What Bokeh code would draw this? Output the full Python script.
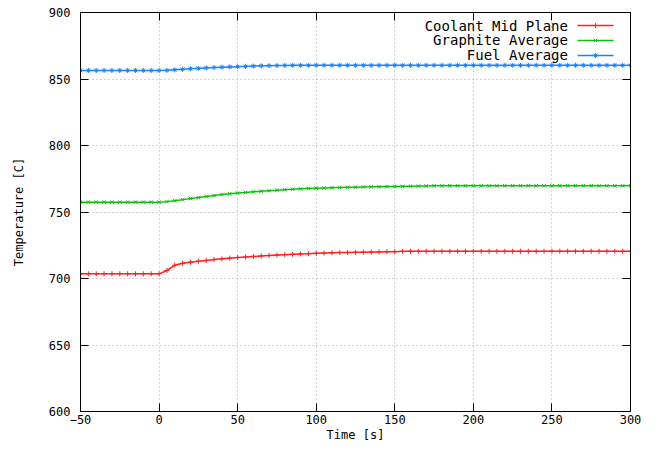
import numpy as np
from bokeh.plotting import figure
from bokeh.models import FixedTicker, LinearAxis, Range1d, Label
from bokeh.embed import file_html
from bokeh.resources import INLINE

# Sample times [s]
time_s = np.arange(-50, 301, 5)

coolant_mid_plane = [
    703.5, 703.5, 703.5, 703.5, 703.5, 703.5, 703.5, 703.5, 703.5, 703.5, 703.5,
    706.0, 710.0, 711.5, 712.3, 713.0, 713.6, 714.2, 714.8, 715.3, 715.8,
    716.2, 716.6, 717.0, 717.3, 717.6, 717.9, 718.2, 718.5, 718.7, 718.9,
    719.1, 719.3, 719.5, 719.6, 719.7, 719.8, 719.9, 720.0, 720.1, 720.2, 720.4,
    720.5, 720.5, 720.5, 720.5, 720.5, 720.5, 720.5, 720.5, 720.5, 720.5,
    720.5, 720.5, 720.5, 720.5, 720.5, 720.5, 720.5, 720.5, 720.5, 720.5,
    720.5, 720.5, 720.5, 720.5, 720.5, 720.5, 720.5, 720.5, 720.5,
]

graphite_average = [
    757.4, 757.4, 757.4, 757.4, 757.4, 757.4, 757.4, 757.4, 757.4, 757.4, 757.4,
    757.8, 758.5, 759.3, 760.1, 760.9, 761.7, 762.4, 763.1, 763.7, 764.2,
    764.7, 765.2, 765.6, 766.0, 766.4, 766.8, 767.1, 767.4, 767.7, 767.9,
    768.1, 768.3, 768.5, 768.6, 768.7, 768.8, 768.9, 769.0, 769.1, 769.2,
    769.3, 769.4, 769.5, 769.6,
    769.7, 769.7, 769.7, 769.7, 769.7, 769.7, 769.7, 769.7, 769.7, 769.7,
    769.7, 769.7, 769.7, 769.7, 769.7, 769.7, 769.7, 769.7, 769.7, 769.7,
    769.7, 769.7, 769.7, 769.7, 769.7, 769.7,
]

fuel_average = [
    856.4, 856.4, 856.4, 856.4, 856.4, 856.4, 856.4, 856.4, 856.4, 856.4, 856.4,
    856.5, 856.9, 857.3, 857.7, 858.0, 858.3, 858.6, 858.9, 859.1, 859.3,
    859.5, 859.7, 859.9, 860.0, 860.1, 860.2,
    860.3, 860.3, 860.3, 860.3, 860.3, 860.3, 860.3, 860.3, 860.3, 860.3, 860.3,
    860.3, 860.3, 860.3, 860.3, 860.3, 860.3, 860.3, 860.3, 860.3, 860.3, 860.3,
    860.3, 860.3, 860.3, 860.3, 860.3, 860.3, 860.3, 860.3, 860.3, 860.3, 860.3,
    860.3, 860.3, 860.3, 860.3, 860.3, 860.3, 860.3, 860.3, 860.3, 860.3, 860.3,
]

series_names = ["Coolant Mid Plane", "Graphite Average", "Fuel Average"]
x_ticks = [-50, 0, 50, 100, 150, 200, 250, 300]
y_ticks = [600, 650, 700, 750, 800, 850, 900]

FONT = "DejaVu Sans Mono"
colors = ["#ff2020", "#10c010", "#1a84ff"]
markers = ["cross", "x", "asterisk"]

p = figure(
    width=664, height=457,
    x_range=Range1d(-50, 300), y_range=Range1d(600, 900),
    output_backend="svg", toolbar_location=None,
    min_border_left=80, min_border_right=34,
    min_border_top=12, min_border_bottom=46,
    background_fill_color="white", border_fill_color="white",
)
p.outline_line_color = "black"
p.outline_line_width = 1

# Axes: inward ticks, gnuplot style
for ax in (p.xaxis[0], p.yaxis[0]):
    ax.major_tick_in = 8
    ax.major_tick_out = 0
    ax.minor_tick_line_color = None
    ax.axis_line_color = "black"
    ax.major_tick_line_color = "black"
    ax.major_label_text_font = FONT
    ax.major_label_text_font_size = "12px"
    ax.major_label_text_color = "black"
    ax.axis_label_text_font = FONT
    ax.axis_label_text_font_size = "12px"
    ax.axis_label_text_font_style = "normal"
    ax.axis_label_text_color = "black"

p.xaxis.ticker = FixedTicker(ticks=x_ticks)
p.yaxis.ticker = FixedTicker(ticks=y_ticks)
p.xaxis.major_label_overrides = {-50: "\u221250"}
p.xaxis.axis_label = "Time [s]"
p.yaxis.axis_label = "Temperature [C]"
p.xaxis.major_label_standoff = 3
p.xaxis.axis_label_standoff = 1
p.yaxis.major_label_standoff = 10
p.yaxis.axis_label_standoff = 20

# Mirrored tick marks on the top and right borders (no labels)
top_ax = LinearAxis(ticker=FixedTicker(ticks=x_ticks),
                    major_label_overrides={t: "" for t in x_ticks})
right_ax = LinearAxis(ticker=FixedTicker(ticks=y_ticks),
                      major_label_overrides={t: "" for t in y_ticks})
for ax in (top_ax, right_ax):
    ax.major_tick_in = 8
    ax.major_tick_out = 0
    ax.minor_tick_line_color = None
    ax.major_label_standoff = 0
    ax.axis_line_color = "black"
    ax.major_tick_line_color = "black"
p.add_layout(top_ax, "above")
p.add_layout(right_ax, "right")

# Dotted grid
p.xgrid.ticker = FixedTicker(ticks=x_ticks)
p.ygrid.ticker = FixedTicker(ticks=y_ticks)
for g in (p.xgrid[0], p.ygrid[0]):
    g.grid_line_color = "#a8a8a8"
    g.grid_line_dash = "1 3"
    g.grid_line_width = 1

# Data series
all_series = [coolant_mid_plane, graphite_average, fuel_average]
for vals, c, m in zip(all_series, colors, markers):
    p.line(time_s, vals, line_color=c, line_width=1.5)
    p.scatter(time_s, vals, marker=m, size=5, line_color=c, line_width=1)

# Key: right-aligned names with a line sample to their right
key_text_x = 260.2
key_line_x0, key_line_x1 = 266.3, 289.2
key_rows_y = [890.2, 879.0, 867.7]
for name, c, m, ky in zip(series_names, colors, markers, key_rows_y):
    p.add_layout(Label(
        x=key_text_x, y=ky, text=name, text_align="right",
        text_baseline="middle", text_font=FONT, text_font_size="14px",
        text_color="black",
    ))
    p.segment(x0=[key_line_x0], y0=[ky], x1=[key_line_x1], y1=[ky],
              line_color=c, line_width=1.5)
    p.scatter(x=[(key_line_x0 + key_line_x1) / 2], y=[ky], marker=m,
              size=5, line_color=c, line_width=1)

open("out.html", "w").write(file_html(p, INLINE))
